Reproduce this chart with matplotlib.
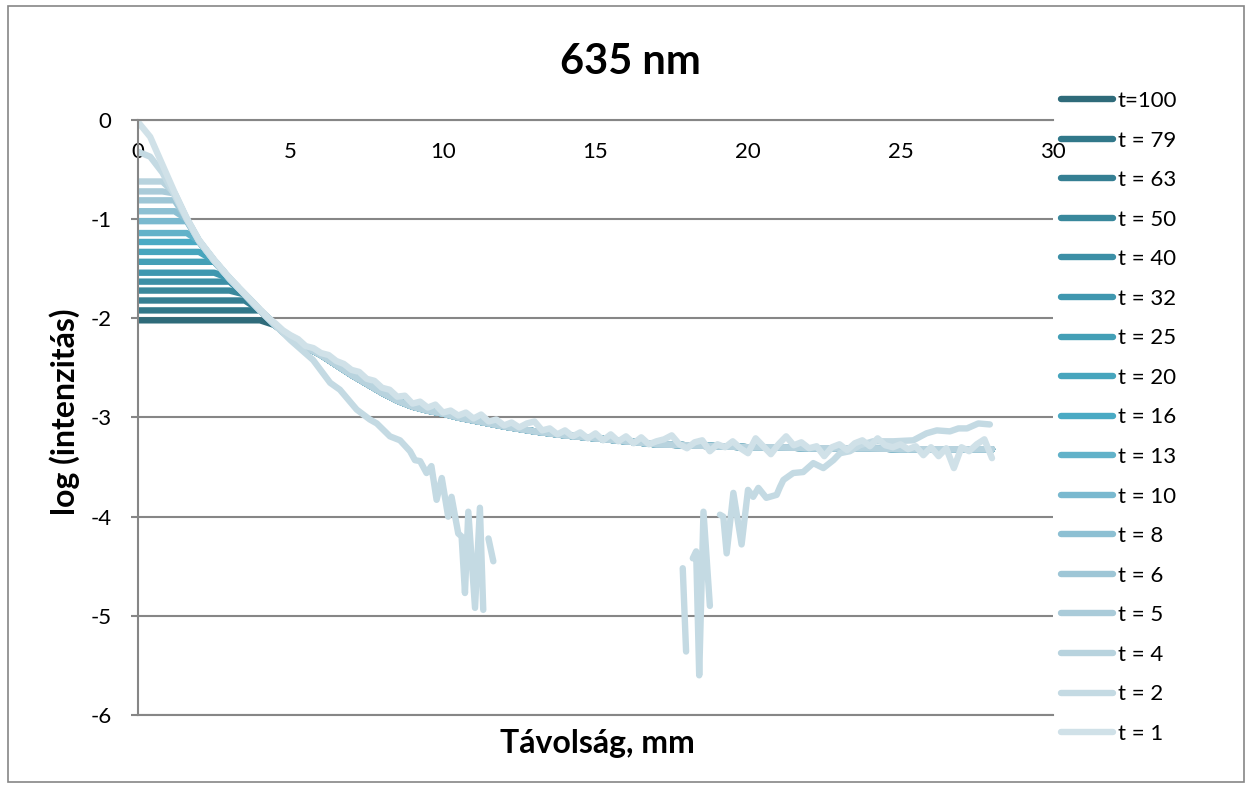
import numpy as np
import matplotlib.pyplot as plt
from matplotlib.patches import Rectangle

plt.rcParams['font.family'] = ['Lato', 'DejaVu Sans']

# legend labels, series order as in the chart (first drawn = t=100)
labels = ["t=100", "t = 79", "t = 63", "t = 50", "t = 40", "t = 32", "t = 25", "t = 20",
          "t = 16", "t = 13", "t = 10", "t = 8", "t = 6", "t = 5", "t = 4", "t = 2", "t = 1"]
colors = ["#2f6b7a", "#31788a", "#357f93", "#39889c", "#3c8fa6", "#3f97af", "#439fb6", "#47a5bd",
          "#4aaac4", "#62b2c9", "#7ab9cf", "#8dc0d3", "#9ec6d6", "#aacbd9", "#b8d3de", "#c4dae3",
          "#d0e1e8"]

# saturation level (plateau) read for t=100 ... t=4
plateaus = [-2.02, -1.92, -1.82, -1.72, -1.63, -1.54, -1.43, -1.33, -1.23, -1.14, -1.02,
            -0.92, -0.81, -0.72, -0.62]

# common smooth profile followed by the saturated curves
base_x = [0, 0.4, 0.8, 1.2, 1.6, 2.0, 2.5, 3.0, 3.5, 4.0, 4.5, 5.0, 5.5, 6.0, 6.5, 7.0, 7.5,
          8.0, 8.5, 9.0, 9.5, 10.0, 10.5, 11.0, 11.5, 12.0, 13.0, 14.0, 15.0, 16.0, 17.0,
          18.0, 19.0, 20.0, 21.0, 22.0, 23.0, 24.0, 25.0, 26.0, 27.0, 28.0]
base_y = [0, -0.17, -0.45, -0.74, -1.0, -1.22, -1.42, -1.6, -1.76, -1.92, -2.07, -2.2, -2.29,
          -2.37, -2.47, -2.57, -2.66, -2.75, -2.83, -2.89, -2.93, -2.96, -3.0, -3.03, -3.06,
          -3.09, -3.14, -3.18, -3.21, -3.24, -3.27, -3.28, -3.29, -3.30, -3.30, -3.31, -3.31,
          -3.31, -3.32, -3.32, -3.32, -3.32]

# t = 1 (starts at 0, noisy tail)
t1_x = [0, 0.4, 0.8, 1.2, 1.6, 2.0, 2.5, 3.0, 3.5] + list(np.arange(4.0, 28.01, 0.25))
t1_y = [-0.02, -0.17, -0.45, -0.73, -0.99, -1.21, -1.41, -1.59, -1.75,
        -1.91, -1.99, -2.05, -2.12, -2.17, -2.21, -2.28, -2.30, -2.35, -2.37, -2.43, -2.46,
        -2.52, -2.54, -2.61, -2.63, -2.70, -2.72, -2.79, -2.78, -2.86, -2.84, -2.90, -2.87,
        -2.95, -2.93, -2.98, -2.95, -3.01, -2.97, -3.04, -3.02, -3.08, -3.05, -3.10, -3.06,
        -3.04, -3.13, -3.11, -3.17, -3.13, -3.19, -3.15, -3.21, -3.16, -3.23, -3.17, -3.24,
        -3.19, -3.26, -3.20, -3.27, -3.24, -3.22, -3.18, -3.27, -3.31, -3.25, -3.23, -3.34,
        -3.27, -3.30, -3.24, -3.31, -3.36, -3.21, -3.29, -3.37, -3.27, -3.19, -3.28, -3.25,
        -3.31, -3.29, -3.39, -3.30, -3.27, -3.33, -3.26, -3.23, -3.29, -3.21, -3.28, -3.30,
        -3.27, -3.32, -3.29, -3.38, -3.30, -3.39, -3.31, -3.51, -3.30, -3.34, -3.27, -3.22,
        -3.41]

# t = 2 (starts lower, drops into the noise, gaps where no value)
nan = np.nan
t2_x = [0, 0.4, 0.8, 1.2, 1.6, 2.0, 2.5, 3.0, 3.5, 4.0, 4.5, 5.0, 5.74, 6.3, 6.62, 7.17, 7.6,
        7.83, 8.26, 8.59, 8.92, 9.08, 9.25, 9.46, 9.62, 9.79, 9.96, 10.17, 10.28, 10.5, 10.61,
        10.72, 10.83, 11.05, 11.21, 11.32, 11.4, 11.49, 11.65, 14.0, 17.86, 17.97, 18.08,
        18.19, 18.3, 18.4, 18.54, 18.75, 18.9, 19.08, 19.19, 19.3, 19.52, 19.79, 20.0, 20.17,
        20.34, 20.6, 20.94, 21.05, 21.16, 21.48, 21.81, 22.14, 22.47, 22.8, 23.02, 23.34,
        23.67, 24.1, 24.76, 25.42, 25.85, 26.19, 26.62, 26.9, 27.18, 27.55, 27.93]
t2_y = [-0.32, -0.37, -0.53, -0.76, -1.0, -1.22, -1.42, -1.6, -1.76, -1.92, -2.07, -2.22,
        -2.42, -2.65, -2.72, -2.92, -3.02, -3.06, -3.19, -3.23, -3.34, -3.43, -3.44, -3.56,
        -3.49, -3.83, -3.61, -4.0, -3.80, -4.17, -4.2, -4.77, -3.95, -4.92, -3.91, -4.94, nan,
        -4.22, -4.45, nan, -4.52, -5.36, nan, -4.42, -4.35, -5.6, -3.95, -4.9, nan, -3.98,
        -4.0, -4.37, -3.76, -4.28, -3.73, -3.80, -3.71, -3.81, -3.78, -3.70, -3.63, -3.56,
        -3.55, -3.46, -3.51, -3.43, -3.36, -3.34, -3.28, -3.24, -3.24, -3.23, -3.16, -3.13,
        -3.14, -3.11, -3.11, -3.06, -3.07]

xticks = [0, 5, 10, 15, 20, 25, 30]
yticks = [0, -1, -2, -3, -4, -5, -6]
ytick_labels = ["0", "-1", "-2", "-3", "-4", "-5", "-6"]

fig = plt.figure(figsize=(12.5, 7.89), dpi=100)
ax = fig.add_axes([0.1104, 0.0938, 0.7320, 0.7541])

lw = 4.6
handles = []
for i, lvl in enumerate(plateaus):
    yy = np.minimum(np.array(base_y), lvl)
    h, = ax.plot(base_x, yy, color=colors[i], lw=lw, solid_capstyle='round',
                 solid_joinstyle='round', label=labels[i])
    handles.append(h)
h, = ax.plot(t2_x, t2_y, color=colors[15], lw=lw, solid_capstyle='round',
             solid_joinstyle='round', label=labels[15])
handles.append(h)
h, = ax.plot(t1_x, t1_y, color=colors[16], lw=lw, solid_capstyle='round',
             solid_joinstyle='round', label=labels[16])
handles.append(h)

ax.set_xlim(0, 30)
ax.set_ylim(-6, 0)
ax.set_xticks(xticks)
ax.set_yticks(yticks)
ax.set_yticklabels(ytick_labels)
ax.yaxis.grid(True, color='#868686', lw=1.5)
ax.set_axisbelow(True)

ax.xaxis.tick_top()
ax.tick_params(axis='x', labelsize=16, length=0, pad=-30)
ax.tick_params(axis='y', labelsize=16, length=5, color='#868686', width=1.5, pad=14)
ax.spines['right'].set_visible(False)
for s in ['top', 'left', 'bottom']:
    ax.spines[s].set_color('#868686')
    ax.spines[s].set_linewidth(1.5)

fig.text(0.504, 0.921, "635 nm", ha='center', va='center', fontsize=30, fontweight='bold')
fig.text(0.478, 0.058, "Távolság, mm", ha='center', va='center', fontsize=23, fontweight='bold')
fig.text(0.052, 0.478, "log (intenzitás)", ha='center', va='center', fontsize=23,
         fontweight='bold', rotation=90)

fig.legend(handles, labels, loc='upper left', bbox_to_anchor=(1061 / 1250, 1 - 91 / 789),
           frameon=False, fontsize=16, handlelength=2.35, handletextpad=0.2,
           labelspacing=0.88, borderpad=0, borderaxespad=0)

fig.patches.append(Rectangle((0.006, 0.009), 0.989, 0.983, transform=fig.transFigure,
                             fill=False, edgecolor='#868686', lw=1.2))

fig.savefig("out.png", dpi=100)
